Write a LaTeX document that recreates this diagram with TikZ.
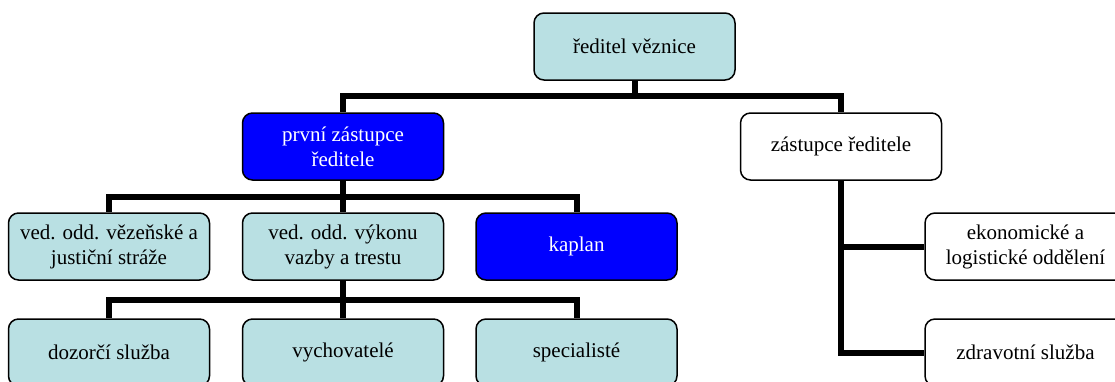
\documentclass[tikz,border=0pt]{standalone}
\usepackage{fontspec}
\setmainfont{Liberation Serif}
\usetikzlibrary{backgrounds}
\definecolor{boxblue}{RGB}{185,224,227}
\definecolor{deepblue}{RGB}{0,0,255}
\tikzset{
  orgbox/.style={draw=black, line width=1.5pt, rounded corners=10pt,
    minimum width=201pt, minimum height=67pt, inner sep=0pt, align=center,
    font=\fontsize{21}{25}\selectfont},
  lightbox/.style={orgbox, fill=boxblue, text=black},
  bluebox/.style={orgbox, fill=deepblue, text=white},
  whitebox/.style={orgbox, fill=white, text=black},
  conn/.style={draw=black, line width=6pt, line join=miter}
}
\begin{document}
\begin{tikzpicture}[x=1pt,y=-1pt]
\useasboundingbox (0,0) rectangle (1115,381);
\clip (0,0) rectangle (1115,381);
% level 0
\node[lightbox] (dir) at (634.5,46.5) {ředitel věznice};
% level 1
\node[bluebox] (pz) at (343,146.5) {první zástupce\\ředitele};
\node[whitebox] (zr) at (841,146.5) {zástupce ředitele};
% level 2
\node[lightbox] (vez) at (109,246.5) {ved. odd. vězeňské a\\justiční stráže};
\node[lightbox] (vyk) at (343,246.5) {ved. odd. výkonu\\vazby a trestu};
\node[bluebox] (kap) at (576.5,246.5) {kaplan};
% level 3
\node[lightbox] (doz) at (109,352.5) {dozorčí služba};
\node[lightbox] (vych) at (343,352.5) {vychovatelé};
\node[lightbox] (spec) at (576.5,352.5) {specialisté};
% right branch
\node[whitebox] (eko) at (1025.5,246.5) {ekonomické a\\logistické oddělení};
\node[whitebox] (zdr) at (1025.5,352.5) {zdravotní služba};
% junctions
\coordinate (j0) at (634.5,96);
\coordinate (j1) at (343,197);
\coordinate (j2) at (343,299.5);
\begin{scope}[on background layer]
\fill[white] (0,0) rectangle (1115,381);
\draw[conn] (dir.south) -- (j0) -| (pz.north);
\draw[conn] (j0) -| (zr.north);
\draw[conn] (pz.south) -- (j1) -| (vez.north);
\draw[conn] (j1) -| (kap.north);
\draw[conn] (j1) -- (vyk.north);
\draw[conn] (vyk.south) -- (j2) -| (doz.north);
\draw[conn] (j2) -| (spec.north);
\draw[conn] (j2) -- (vych.north);
\draw[conn] (zr.south) |- (zdr.west);
\draw[conn] (zr.south |- eko.west) -- (eko.west);
\end{scope}
\end{tikzpicture}
\end{document}
